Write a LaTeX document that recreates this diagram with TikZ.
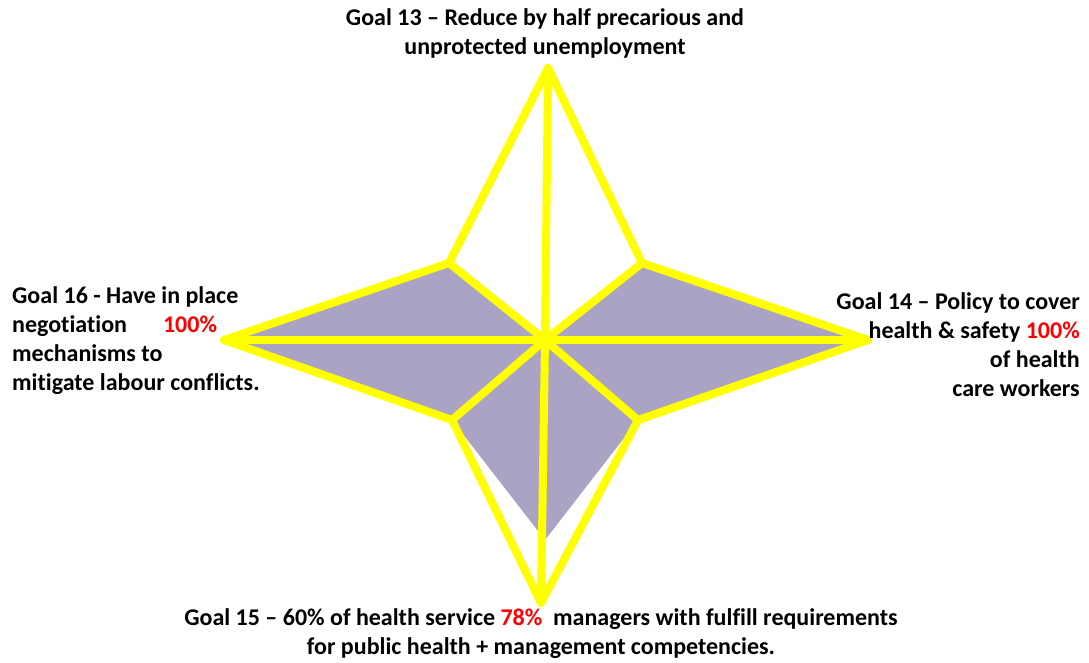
\documentclass[tikz,border=0pt]{standalone}
\usepackage{fontspec}
\setmainfont[Ligatures=NoCommon]{Carlito}
\usepackage{xcolor}
\definecolor{starfill}{HTML}{ABA3C3}
\definecolor{staryellow}{HTML}{FFFF00}
\definecolor{valred}{HTML}{FF0000}
\begin{document}
\begin{tikzpicture}[x=1pt,y=-1pt,
  goal/.style={font=\bfseries\fontsize{24}{29}\selectfont, inner sep=0pt},
  spoke/.style={draw=staryellow, line width=8pt, line cap=round, line join=round},
  val/.style={text=valred}]
\useasboundingbox (0,0) rectangle (1089,663);
% key points
\coordinate (C) at (545,340);
\coordinate (T) at (548,68);
\coordinate (R) at (868,340);
\coordinate (B) at (541,603);
\coordinate (L) at (224,340);
\coordinate (UL) at (449,263);
\coordinate (UR) at (642,263);
\coordinate (LR) at (638,420);
\coordinate (LL) at (452,420);
\coordinate (B78) at (545,540);
% data polygon
\fill[starfill] (C) -- (UR) -- (R) -- (LR) -- (B78) -- (LL) -- (L) -- (UL) -- cycle;
% outline
\draw[spoke] (T) -- (UR) -- (R) -- (LR) -- (B) -- (LL) -- (L) -- (UL) -- cycle;
% spokes
\draw[spoke] (C) -- (T);
\draw[spoke] (C) -- (R);
\draw[spoke] (C) -- (B);
\draw[spoke] (C) -- (L);
\draw[spoke] (C) -- (UL);
\draw[spoke] (C) -- (UR);
\draw[spoke] (C) -- (LR);
\draw[spoke] (C) -- (LL);
% labels
\node[goal, align=center, anchor=north] (g13) at (545,8)
  {Goal 13 – Reduce by half precarious and\\unprotected unemployment};
\node[goal, align=right, anchor=north east] (g14) at (1080,292)
  {Goal 14 – Policy to cover\\health \& safety \textcolor{valred}{100\%}\\of health\\care workers};
\node[goal, align=center, anchor=north] (g15) at (541,608)
  {Goal 15 – 60\% of health service \textcolor{valred}{78\%}\ \ managers with fulfill requirements\\for public health + management competencies.};
\node[goal, align=left, anchor=north west] (g16) at (12,286)
  {Goal 16 - Have in place\\negotiation\hspace{36pt}\textcolor{valred}{100\%}\\mechanisms to\\mitigate labour conflicts.};
\end{tikzpicture}
\end{document}
